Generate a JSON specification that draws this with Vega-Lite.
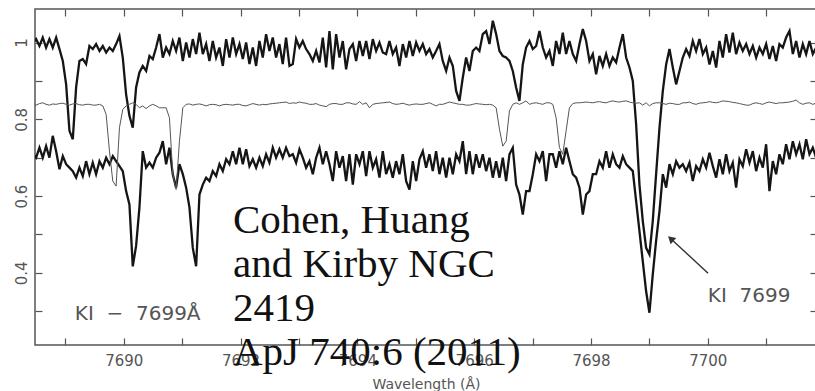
{
"$schema":"https://vega.github.io/schema/vega-lite/v6.json",
"width":782,"height":336,
"autosize":"none",
"padding":{"left":35,"top":9,"right":0,"bottom":46},
"background":"white",
"config":{"view":{"stroke":"#555","strokeWidth":1.5}},
"datasets":{"spec":[
{"w":7688.442,"a":1.0,"b":0.839,"c":0.71},
{"w":7688.499,"a":1.009,"b":0.837,"c":0.700},
{"w":7688.556,"a":0.991,"b":0.841,"c":0.726},
{"w":7688.613,"a":1.013,"b":0.843,"c":0.700},
{"w":7688.670,"a":0.987,"b":0.839,"c":0.730},
{"w":7688.727,"a":1.009,"b":0.837,"c":0.700},
{"w":7688.784,"a":0.987,"b":0.840,"c":0.757},
{"w":7688.842,"a":1.013,"b":0.839,"c":0.717},
{"w":7688.899,"a":0.983,"b":0.841,"c":0.670},
{"w":7688.956,"a":0.952,"b":0.842,"c":0.704},
{"w":7689.013,"a":0.891,"b":0.839,"c":0.683},
{"w":7689.070,"a":0.770,"b":0.837,"c":0.674},
{"w":7689.127,"a":0.748,"b":0.840,"c":0.665},
{"w":7689.184,"a":0.883,"b":0.841,"c":0.648},
{"w":7689.241,"a":0.952,"b":0.838,"c":0.674},
{"w":7689.298,"a":0.957,"b":0.837,"c":0.652},
{"w":7689.355,"a":0.944,"b":0.839,"c":0.691},
{"w":7689.412,"a":0.991,"b":0.839,"c":0.657},
{"w":7689.469,"a":0.983,"b":0.837,"c":0.687},
{"w":7689.526,"a":0.996,"b":0.837,"c":0.657},
{"w":7689.584,"a":0.978,"b":0.839,"c":0.691},
{"w":7689.641,"a":0.991,"b":0.835,"c":0.674},
{"w":7689.698,"a":0.974,"b":0.813,"c":0.700},
{"w":7689.755,"a":0.987,"b":0.717,"c":0.683},
{"w":7689.812,"a":0.978,"b":0.639,"c":0.704},
{"w":7689.869,"a":0.996,"b":0.626,"c":0.691},
{"w":7689.926,"a":1.017,"b":0.778,"c":0.678},
{"w":7689.983,"a":0.961,"b":0.826,"c":0.665},
{"w":7690.040,"a":0.865,"b":0.835,"c":0.613},
{"w":7690.097,"a":0.809,"b":0.839,"c":0.578},
{"w":7690.154,"a":0.778,"b":0.843,"c":0.417},
{"w":7690.211,"a":0.883,"b":0.839,"c":0.470},
{"w":7690.268,"a":0.922,"b":0.830,"c":0.570},
{"w":7690.325,"a":0.939,"b":0.835,"c":0.717},
{"w":7690.383,"a":0.926,"b":0.828,"c":0.674},
{"w":7690.440,"a":0.965,"b":0.835,"c":0.687},
{"w":7690.497,"a":0.957,"b":0.839,"c":0.674},
{"w":7690.554,"a":0.987,"b":0.835,"c":0.700},
{"w":7690.611,"a":1.022,"b":0.830,"c":0.713},
{"w":7690.668,"a":0.961,"b":0.830,"c":0.743},
{"w":7690.725,"a":0.987,"b":0.830,"c":0.683},
{"w":7690.782,"a":0.970,"b":0.804,"c":0.726},
{"w":7690.839,"a":1.004,"b":0.657,"c":0.657},
{"w":7690.896,"a":0.978,"b":0.617,"c":0.622},
{"w":7690.953,"a":1.013,"b":0.743,"c":0.683},
{"w":7691.011,"a":0.952,"b":0.830,"c":0.657},
{"w":7691.068,"a":1.000,"b":0.839,"c":0.622},
{"w":7691.125,"a":0.961,"b":0.840,"c":0.570},
{"w":7691.182,"a":1.009,"b":0.837,"c":0.465},
{"w":7691.239,"a":0.970,"b":0.839,"c":0.417},
{"w":7691.296,"a":1.026,"b":0.840,"c":0.604},
{"w":7691.353,"a":0.970,"b":0.838,"c":0.630},
{"w":7691.410,"a":0.996,"b":0.835,"c":0.648},
{"w":7691.467,"a":0.952,"b":0.838,"c":0.639},
{"w":7691.524,"a":1.004,"b":0.839,"c":0.665},
{"w":7691.581,"a":0.961,"b":0.838,"c":0.652},
{"w":7691.638,"a":0.987,"b":0.835,"c":0.683},
{"w":7691.696,"a":0.939,"b":0.838,"c":0.665},
{"w":7691.753,"a":1.009,"b":0.839,"c":0.696},
{"w":7691.810,"a":0.961,"b":0.838,"c":0.683},
{"w":7691.867,"a":1.013,"b":0.837,"c":0.717},
{"w":7691.924,"a":0.970,"b":0.839,"c":0.683},
{"w":7691.981,"a":0.996,"b":0.839,"c":0.726},
{"w":7692.038,"a":0.957,"b":0.836,"c":0.683},
{"w":7692.095,"a":1.000,"b":0.835,"c":0.722},
{"w":7692.152,"a":0.944,"b":0.838,"c":0.678},
{"w":7692.209,"a":0.987,"b":0.841,"c":0.696},
{"w":7692.266,"a":0.939,"b":0.839,"c":0.674},
{"w":7692.323,"a":1.004,"b":0.837,"c":0.700},
{"w":7692.380,"a":0.961,"b":0.839,"c":0.678},
{"w":7692.437,"a":1.022,"b":0.838,"c":0.709},
{"w":7692.494,"a":0.978,"b":0.840,"c":0.687},
{"w":7692.551,"a":1.013,"b":0.841,"c":0.726},
{"w":7692.608,"a":0.961,"b":0.842,"c":0.700},
{"w":7692.665,"a":0.996,"b":0.843,"c":0.722},
{"w":7692.722,"a":0.944,"b":0.844,"c":0.700},
{"w":7692.779,"a":1.013,"b":0.845,"c":0.726},
{"w":7692.837,"a":0.939,"b":0.841,"c":0.704},
{"w":7692.894,"a":0.944,"b":0.843,"c":0.709},
{"w":7692.951,"a":1.009,"b":0.842,"c":0.687},
{"w":7693.008,"a":0.987,"b":0.845,"c":0.722},
{"w":7693.065,"a":1.004,"b":0.843,"c":0.700},
{"w":7693.122,"a":0.983,"b":0.842,"c":0.674},
{"w":7693.179,"a":0.970,"b":0.839,"c":0.691},
{"w":7693.237,"a":0.952,"b":0.839,"c":0.657},
{"w":7693.294,"a":0.978,"b":0.841,"c":0.700},
{"w":7693.351,"a":0.948,"b":0.837,"c":0.726},
{"w":7693.408,"a":1.013,"b":0.835,"c":0.683},
{"w":7693.465,"a":0.935,"b":0.833,"c":0.717},
{"w":7693.522,"a":1.030,"b":0.839,"c":0.683},
{"w":7693.579,"a":0.930,"b":0.841,"c":0.639},
{"w":7693.636,"a":1.022,"b":0.841,"c":0.717},
{"w":7693.693,"a":0.961,"b":0.839,"c":0.674},
{"w":7693.750,"a":1.004,"b":0.839,"c":0.704},
{"w":7693.807,"a":0.930,"b":0.843,"c":0.639},
{"w":7693.864,"a":0.983,"b":0.843,"c":0.709},
{"w":7693.922,"a":0.996,"b":0.840,"c":0.630},
{"w":7693.979,"a":0.952,"b":0.839,"c":0.709},
{"w":7694.036,"a":1.004,"b":0.846,"c":0.683},
{"w":7694.093,"a":0.965,"b":0.839,"c":0.717},
{"w":7694.150,"a":1.004,"b":0.843,"c":0.652},
{"w":7694.207,"a":0.957,"b":0.830,"c":0.717},
{"w":7694.264,"a":1.009,"b":0.839,"c":0.674},
{"w":7694.321,"a":0.978,"b":0.841,"c":0.696},
{"w":7694.378,"a":1.000,"b":0.842,"c":0.648},
{"w":7694.435,"a":0.974,"b":0.843,"c":0.717},
{"w":7694.492,"a":0.970,"b":0.844,"c":0.657},
{"w":7694.549,"a":1.004,"b":0.845,"c":0.683},
{"w":7694.606,"a":0.970,"b":0.841,"c":0.648},
{"w":7694.663,"a":0.987,"b":0.839,"c":0.691},
{"w":7694.720,"a":0.939,"b":0.840,"c":0.657},
{"w":7694.778,"a":0.996,"b":0.842,"c":0.709},
{"w":7694.835,"a":0.961,"b":0.839,"c":0.639},
{"w":7694.892,"a":1.004,"b":0.837,"c":0.617},
{"w":7694.949,"a":0.965,"b":0.839,"c":0.691},
{"w":7695.006,"a":1.000,"b":0.840,"c":0.639},
{"w":7695.063,"a":0.978,"b":0.839,"c":0.696},
{"w":7695.120,"a":0.996,"b":0.839,"c":0.717},
{"w":7695.177,"a":0.970,"b":0.841,"c":0.674},
{"w":7695.234,"a":0.983,"b":0.843,"c":0.709},
{"w":7695.291,"a":0.961,"b":0.839,"c":0.665},
{"w":7695.348,"a":0.978,"b":0.835,"c":0.717},
{"w":7695.405,"a":0.996,"b":0.839,"c":0.657},
{"w":7695.462,"a":0.952,"b":0.839,"c":0.700},
{"w":7695.520,"a":0.926,"b":0.842,"c":0.648},
{"w":7695.577,"a":0.961,"b":0.845,"c":0.700},
{"w":7695.634,"a":0.939,"b":0.843,"c":0.657},
{"w":7695.691,"a":0.874,"b":0.841,"c":0.709},
{"w":7695.748,"a":0.848,"b":0.839,"c":0.691},
{"w":7695.805,"a":0.909,"b":0.839,"c":0.743},
{"w":7695.862,"a":0.961,"b":0.837,"c":0.657},
{"w":7695.919,"a":0.926,"b":0.837,"c":0.717},
{"w":7695.976,"a":0.978,"b":0.839,"c":0.657},
{"w":7696.033,"a":0.987,"b":0.841,"c":0.709},
{"w":7696.090,"a":0.978,"b":0.840,"c":0.674},
{"w":7696.147,"a":1.022,"b":0.839,"c":0.709},
{"w":7696.205,"a":1.030,"b":0.838,"c":0.665},
{"w":7696.262,"a":0.996,"b":0.839,"c":0.700},
{"w":7696.319,"a":1.057,"b":0.837,"c":0.648},
{"w":7696.376,"a":1.022,"b":0.830,"c":0.691},
{"w":7696.433,"a":0.978,"b":0.774,"c":0.648},
{"w":7696.490,"a":0.965,"b":0.730,"c":0.700},
{"w":7696.547,"a":0.961,"b":0.743,"c":0.639},
{"w":7696.604,"a":0.952,"b":0.822,"c":0.709},
{"w":7696.661,"a":0.926,"b":0.839,"c":0.726},
{"w":7696.718,"a":0.883,"b":0.843,"c":0.630},
{"w":7696.775,"a":0.848,"b":0.839,"c":0.604},
{"w":7696.832,"a":0.943,"b":0.843,"c":0.552},
{"w":7696.889,"a":0.987,"b":0.848,"c":0.613},
{"w":7696.947,"a":1.004,"b":0.839,"c":0.613},
{"w":7697.004,"a":0.983,"b":0.842,"c":0.657},
{"w":7697.061,"a":0.991,"b":0.843,"c":0.709},
{"w":7697.118,"a":1.030,"b":0.841,"c":0.691},
{"w":7697.175,"a":0.987,"b":0.839,"c":0.717},
{"w":7697.232,"a":0.961,"b":0.843,"c":0.639},
{"w":7697.289,"a":0.978,"b":0.843,"c":0.709},
{"w":7697.346,"a":0.939,"b":0.839,"c":0.709},
{"w":7697.403,"a":1.004,"b":0.804,"c":0.674},
{"w":7697.460,"a":0.970,"b":0.726,"c":0.717},
{"w":7697.517,"a":1.026,"b":0.709,"c":0.683},
{"w":7697.574,"a":0.970,"b":0.770,"c":0.726},
{"w":7697.631,"a":1.004,"b":0.830,"c":0.691},
{"w":7697.689,"a":0.970,"b":0.841,"c":0.657},
{"w":7697.746,"a":0.952,"b":0.843,"c":0.648},
{"w":7697.803,"a":0.996,"b":0.843,"c":0.622},
{"w":7697.860,"a":1.035,"b":0.844,"c":0.552},
{"w":7697.917,"a":1.004,"b":0.845,"c":0.604},
{"w":7697.974,"a":0.952,"b":0.844,"c":0.613},
{"w":7698.031,"a":0.970,"b":0.843,"c":0.657},
{"w":7698.088,"a":0.917,"b":0.845,"c":0.657},
{"w":7698.145,"a":0.965,"b":0.846,"c":0.691},
{"w":7698.202,"a":0.939,"b":0.844,"c":0.674},
{"w":7698.259,"a":0.970,"b":0.843,"c":0.717},
{"w":7698.316,"a":0.939,"b":0.846,"c":0.674},
{"w":7698.373,"a":0.961,"b":0.848,"c":0.709},
{"w":7698.431,"a":0.948,"b":0.846,"c":0.683},
{"w":7698.488,"a":0.987,"b":0.845,"c":0.674},
{"w":7698.545,"a":1.022,"b":0.847,"c":0.704},
{"w":7698.602,"a":0.961,"b":0.848,"c":0.683},
{"w":7698.659,"a":0.935,"b":0.845,"c":0.674},
{"w":7698.716,"a":0.900,"b":0.843,"c":0.665},
{"w":7698.773,"a":0.787,"b":0.842,"c":0.587},
{"w":7698.830,"a":0.630,"b":0.843,"c":0.509},
{"w":7698.887,"a":0.535,"b":0.837,"c":0.430},
{"w":7698.944,"a":0.465,"b":0.843,"c":0.352},
{"w":7699.001,"a":0.448,"b":0.835,"c":0.296},
{"w":7699.058,"a":0.535,"b":0.841,"c":0.396},
{"w":7699.115,"a":0.657,"b":0.843,"c":0.483},
{"w":7699.173,"a":0.778,"b":0.843,"c":0.561},
{"w":7699.230,"a":0.874,"b":0.841,"c":0.657},
{"w":7699.287,"a":0.943,"b":0.839,"c":0.622},
{"w":7699.344,"a":0.983,"b":0.842,"c":0.683},
{"w":7699.401,"a":0.935,"b":0.841,"c":0.657},
{"w":7699.458,"a":0.891,"b":0.839,"c":0.691},
{"w":7699.515,"a":0.926,"b":0.839,"c":0.674},
{"w":7699.572,"a":0.961,"b":0.843,"c":0.683},
{"w":7699.629,"a":0.983,"b":0.843,"c":0.665},
{"w":7699.686,"a":0.965,"b":0.845,"c":0.687},
{"w":7699.743,"a":1.004,"b":0.841,"c":0.639},
{"w":7699.800,"a":0.978,"b":0.839,"c":0.678},
{"w":7699.857,"a":1.009,"b":0.842,"c":0.665},
{"w":7699.915,"a":0.970,"b":0.843,"c":0.696},
{"w":7699.972,"a":0.987,"b":0.844,"c":0.674},
{"w":7700.029,"a":0.943,"b":0.846,"c":0.713},
{"w":7700.086,"a":0.978,"b":0.844,"c":0.678},
{"w":7700.143,"a":0.935,"b":0.843,"c":0.648},
{"w":7700.200,"a":1.004,"b":0.845,"c":0.696},
{"w":7700.257,"a":0.961,"b":0.848,"c":0.657},
{"w":7700.314,"a":1.022,"b":0.847,"c":0.709},
{"w":7700.371,"a":0.974,"b":0.846,"c":0.665},
{"w":7700.428,"a":1.026,"b":0.844,"c":0.687},
{"w":7700.485,"a":0.970,"b":0.843,"c":0.622},
{"w":7700.542,"a":1.000,"b":0.841,"c":0.696},
{"w":7700.599,"a":0.978,"b":0.839,"c":0.678},
{"w":7700.657,"a":0.996,"b":0.837,"c":0.722},
{"w":7700.714,"a":0.970,"b":0.837,"c":0.687},
{"w":7700.771,"a":0.991,"b":0.841,"c":0.717},
{"w":7700.828,"a":0.961,"b":0.843,"c":0.665},
{"w":7700.885,"a":0.987,"b":0.841,"c":0.700},
{"w":7700.942,"a":0.970,"b":0.839,"c":0.674},
{"w":7700.999,"a":0.996,"b":0.843,"c":0.735},
{"w":7701.056,"a":0.957,"b":0.845,"c":0.613},
{"w":7701.113,"a":0.991,"b":0.843,"c":0.691},
{"w":7701.170,"a":0.952,"b":0.841,"c":0.657},
{"w":7701.227,"a":0.996,"b":0.843,"c":0.709},
{"w":7701.284,"a":0.987,"b":0.843,"c":0.683},
{"w":7701.341,"a":1.013,"b":0.844,"c":0.735},
{"w":7701.399,"a":1.030,"b":0.845,"c":0.696},
{"w":7701.456,"a":0.970,"b":0.847,"c":0.743},
{"w":7701.513,"a":1.004,"b":0.850,"c":0.709},
{"w":7701.570,"a":0.961,"b":0.843,"c":0.735},
{"w":7701.627,"a":0.996,"b":0.839,"c":0.696},
{"w":7701.684,"a":0.970,"b":0.842,"c":0.748},
{"w":7701.741,"a":1.004,"b":0.843,"c":0.709},
{"w":7701.798,"a":0.970,"b":0.839,"c":0.726},
{"w":7701.855,"a":0.987,"b":0.842,"c":0.700}
]},
"layer":[
{"data":{"name":"spec"},
 "transform":[{"fold":["a","c"],"as":["series","flux"]}],
 "mark":{"type":"line","clip":true,"strokeWidth":2.3,"color":"#151515","strokeJoin":"miter"},
 "encoding":{
  "x":{"field":"w","type":"quantitative","scale":{"domain":[7688.48,7701.87],"nice":false,"zero":false},
   "axis":{"orient":"bottom","values":[7689,7690,7691,7692,7693,7694,7695,7696,7697,7698,7699,7700,7701],"format":"d",
    "labelExpr":"datum.value % 2 == 0 ? datum.label : ''","tickSize":-7,"tickColor":"#555","tickWidth":1.2,
    "domain":false,"grid":false,"labelFont":"DejaVu Sans","labelFontSize":15,"labelColor":"#555","labelPadding":15,
    "labelFlush":false,"labelOverlap":false,
    "title":"Wavelength (Å)","titleFont":"DejaVu Sans","titleFontSize":14,"titleFontWeight":"normal","titleColor":"#555","titlePadding":9}},
  "y":{"field":"flux","type":"quantitative","scale":{"domain":[0.212,1.0874],"nice":false,"zero":false},
   "axis":{"orient":"left","values":[0.3,0.4,0.5,0.6,0.7,0.8,0.9,1],"format":"~g",
    "labelExpr":"round(datum.value*10) % 2 == 0 ? datum.label : ''","tickSize":-7,"tickColor":"#555","tickWidth":1.2,
    "labelAngle":-90,"labelAlign":"center","labelBaseline":"bottom","labelPadding":13,
    "labelFont":"DejaVu Sans","labelFontSize":15,"labelColor":"#555","labelFlush":false,"labelOverlap":false,
    "title":null,"domain":false,"grid":false}},
  "detail":{"field":"series","type":"nominal"}}},
{"data":{"name":"spec"},
 "mark":{"type":"line","clip":true,"strokeWidth":1,"color":"#555"},
 "encoding":{
  "x":{"field":"w","type":"quantitative","scale":{"domain":[7688.48,7701.87],"nice":false,"zero":false},
   "axis":{"orient":"top","values":[7689,7690,7691,7692,7693,7694,7695,7696,7697,7698,7699,7700,7701],"labels":false,"tickSize":-7,"tickColor":"#555","tickWidth":1.2,"domain":false,"grid":false,"title":null}},
  "y":{"field":"b","type":"quantitative","scale":{"domain":[0.212,1.0874],"nice":false,"zero":false},
   "axis":{"orient":"right","values":[0.3,0.4,0.5,0.6,0.7,0.8,0.9,1],"labels":false,"tickSize":-7,"tickColor":"#555","tickWidth":1.2,"domain":false,"grid":false,"title":null}}}},
{"data":{"values":[{"x":7700.005,"y":0.399,"x2":7699.366,"y2":0.489}]},
 "mark":{"type":"rule","color":"#333","strokeWidth":1.4},
 "encoding":{
  "x":{"field":"x","type":"quantitative","scale":{"domain":[7688.48,7701.87],"nice":false,"zero":false},"axis":null},
  "y":{"field":"y","type":"quantitative","scale":{"domain":[0.212,1.0874],"nice":false,"zero":false},"axis":null},
  "x2":{"field":"x2"},"y2":{"field":"y2"}}},
{"data":{"values":[{"x":7699.366,"y":0.489}]},
 "mark":{"type":"point","shape":"triangle-up","angle":-47.6,"filled":true,"color":"#333","size":70,"opacity":1},
 "encoding":{
  "x":{"field":"x","type":"quantitative","scale":{"domain":[7688.48,7701.87],"nice":false,"zero":false},"axis":null},
  "y":{"field":"y","type":"quantitative","scale":{"domain":[0.212,1.0874],"nice":false,"zero":false},"axis":null}}},
{"data":{"values":[{"x":7689.161,"y":0.277,"t":"KI\u00a0\u00a0\u2212\u00a0\u00a07699Å"},{"x":7700.0,"y":0.324,"t":"KI\u00a0\u00a07699"}]},
 "mark":{"type":"text","align":"left","baseline":"alphabetic","font":"DejaVu Sans","fontSize":20,"color":"#555"},
 "encoding":{
  "x":{"field":"x","type":"quantitative","scale":{"domain":[7688.48,7701.87],"nice":false,"zero":false},"axis":null},
  "y":{"field":"y","type":"quantitative","scale":{"domain":[0.212,1.0874],"nice":false,"zero":false},"axis":null},
  "text":{"field":"t","type":"nominal"}}},
{"data":{"values":[{"x":7691.87,"y":0.504,"t":"Cohen, Huang"},{"x":7691.87,"y":0.390,"t":"and Kirby NGC"},{"x":7691.87,"y":0.275,"t":"2419"},{"x":7691.87,"y":0.160,"t":"ApJ 740:6 (2011)"}]},
 "mark":{"type":"text","align":"left","baseline":"alphabetic","font":"Liberation Serif","fontSize":41,"color":"#111"},
 "encoding":{
  "x":{"field":"x","type":"quantitative","scale":{"domain":[7688.48,7701.87],"nice":false,"zero":false},"axis":null},
  "y":{"field":"y","type":"quantitative","scale":{"domain":[0.212,1.0874],"nice":false,"zero":false},"axis":null},
  "text":{"field":"t","type":"nominal"}}}
],
"resolve":{"axis":{"x":"independent","y":"independent"}}
}
